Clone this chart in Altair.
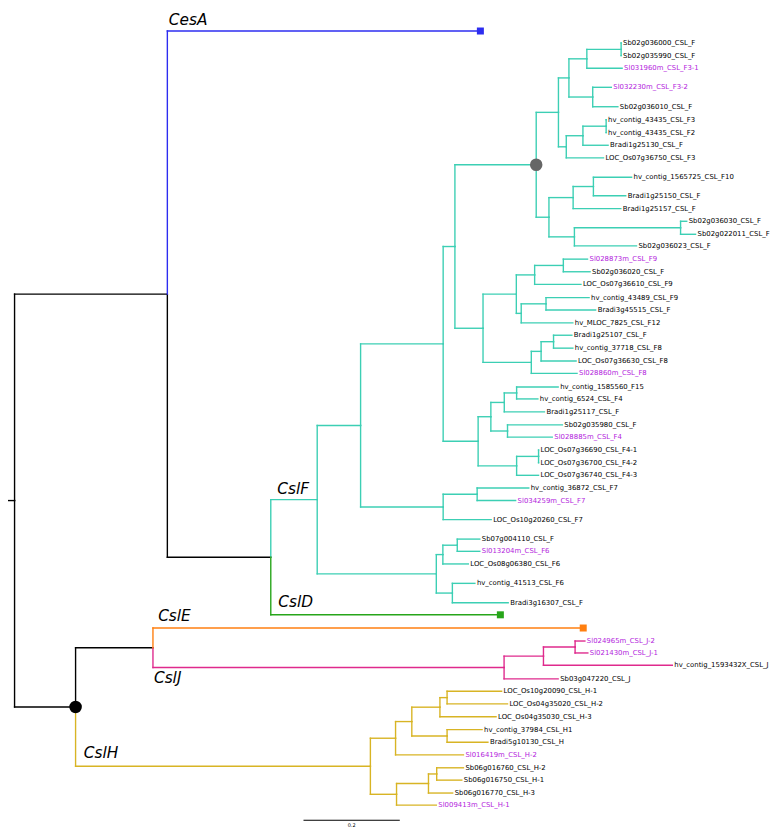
import altair as alt
import pandas as pd

# ---------------- tree data ----------------
# internal nodes: name, parent, distance from left edge
int_names = ["root", "A", "B", "F0", "F1", "F2", "F3", "G", "G1", "G11", "G111", "G1111",
             "G112", "G12", "G121", "G1211", "G2", "G21", "G211", "G22", "G221",
             "F5", "F51", "F511", "F5111", "F512", "F5121", "F52", "F521", "F5211",
             "F40", "F41", "F411", "F4111", "F412", "F42", "F421", "F30", "F31",
             "F6", "F61", "F611", "F62", "C", "D", "J0", "J1", "J11",
             "H0", "H1", "H11", "H111", "H1111", "H112", "H2", "H21", "H211"]
int_parents = [None, "root", "A", "B", "F0", "F1", "F2", "F3", "G", "G1", "G11", "G111",
               "G11", "G1", "G12", "G121", "G", "G2", "G21", "G2", "G22",
               "F3", "F5", "F51", "F511", "F51", "F512", "F5", "F52", "F521",
               "F2", "F40", "F41", "F411", "F41", "F40", "F42", "F1", "F30",
               "F0", "F6", "F61", "F6", "root", "C", "D", "J0", "J1",
               "C", "H0", "H1", "H11", "H111", "H11", "H0", "H2", "H21"]
int_depth = [6.7, 162.7, 268.3, 315.7, 360, 444.3, 456.3, 539.3, 562, 572.7, 591, 626,
             597, 570, 587, 610.7, 552.3, 577, 597.7, 578.3, 686.7,
             485, 519, 537.7, 567, 524, 549.3, 534.3, 544.3, 557,
             480, 493, 506.7, 519.3, 510, 519.3, 541.7, 444.3, 479,
             437.3, 444, 458.7, 453.7, 69, 148, 506.5, 546.7, 579,
             370, 395.7, 412.3, 441, 448.3, 448.3, 396.7, 429.3, 437.7]

leaf_names = ["Sb02g036000_CSL_F", "Sb02g035990_CSL_F", "Sl031960m_CSL_F3-1", "Sl032230m_CSL_F3-2",
              "Sb02g036010_CSL_F", "hv_contig_43435_CSL_F3", "hv_contig_43435_CSL_F2",
              "Bradi1g25130_CSL_F", "LOC_Os07g36750_CSL_F3", "hv_contig_1565725_CSL_F10",
              "Bradi1g25150_CSL_F", "Bradi1g25157_CSL_F", "Sb02g036030_CSL_F", "Sb02g022011_CSL_F",
              "Sb02g036023_CSL_F", "Sl028873m_CSL_F9", "Sb02g036020_CSL_F", "LOC_Os07g36610_CSL_F9",
              "hv_contig_43489_CSL_F9", "Bradi3g45515_CSL_F", "hv_MLOC_7825_CSL_F12",
              "Bradi1g25107_CSL_F", "hv_contig_37718_CSL_F8", "LOC_Os07g36630_CSL_F8",
              "Sl028860m_CSL_F8", "hv_contig_1585560_F15", "hv_contig_6524_CSL_F4",
              "Bradi1g25117_CSL_F", "Sb02g035980_CSL_F", "Sl028885m_CSL_F4",
              "LOC_Os07g36690_CSL_F4-1", "LOC_Os07g36700_CSL_F4-2", "LOC_Os07g36740_CSL_F4-3",
              "hv_contig_36872_CSL_F7", "Sl034259m_CSL_F7", "LOC_Os10g20260_CSL_F7",
              "Sb07g004110_CSL_F", "Sl013204m_CSL_F6", "LOC_Os08g06380_CSL_F6",
              "hv_contig_41513_CSL_F6", "Bradi3g16307_CSL_F", "CslD", "CesA", "CslE",
              "Sl024965m_CSL_J-2", "Sl021430m_CSL_J-1", "hv_contig_1593432X_CSL_J",
              "Sb03g047220_CSL_J", "LOC_Os10g20090_CSL_H-1", "LOC_Os04g35020_CSL_H-2",
              "LOC_Os04g35030_CSL_H-3", "hv_contig_37984_CSL_H1", "Bradi5g10130_CSL_H",
              "Sl016419m_CSL_H-2", "Sb06g016760_CSL_H-2", "Sb06g016750_CSL_H-1",
              "Sb06g016770_CSL_H-3", "Sl009413m_CSL_H-1"]
leaf_parents = ["G1111", "G1111", "G111", "G112", "G112", "G1211", "G1211", "G121", "G12",
                "G211", "G211", "G21", "G221", "G221", "G22", "F5111", "F5111", "F511",
                "F5121", "F5121", "F512", "F5211", "F5211", "F521", "F52", "F4111", "F4111",
                "F411", "F412", "F412", "F421", "F421", "F42", "F31", "F31", "F30",
                "F611", "F611", "F61", "F62", "F62", "B", "A", "D",
                "J11", "J11", "J1", "J0", "H1111", "H1111", "H111", "H112", "H112",
                "H1", "H211", "H211", "H21", "H2"]
leaf_depth = [626, 626, 627, 616, 622.7, 610.7, 610.7, 612.7, 608, 636.7,
              630.7, 625.7, 693, 702, 641.7, 591.7, 594.3, 585,
              593.3, 600, 576.7, 575.7, 576.7, 580, 581, 561.7, 541,
              547.7, 566, 555.7, 541.7, 541.7, 541.7, 531.7, 518.3, 493.3,
              481.7, 481.7, 470, 476.7, 510.7, 502.7, 482.3, 587.3,
              589, 592, 678.3, 561.7, 504, 510, 498.3, 484, 490,
              465, 465, 463.3, 454, 437.3]
leaf_rows = [31.7, 44.7, 57.7, 77.3, 97.3, 110.7, 124, 137, 150, 170,
             189, 202.3, 215.3, 228.7, 240.7, 254.3, 267.3, 280.3,
             294, 306.7, 320, 332.7, 346, 359.3, 372, 386, 398.3,
             411.7, 425, 437.7, 451, 464, 477, 490, 503, 522.7,
             542.7, 555.3, 568.3, 588.3, 608.3, 620.7, 19.3, 634.3,
             647.7, 660, 672.7, 686.7, 699.5, 712.5, 725.7, 739, 752,
             765, 778.3, 791, 804.3, 816.7]

clade_marker_leaves = ["CesA", "CslD", "CslE"]
clade_colors = {"CesA": "#2d2df0", "F0": "#3ccfb4", "CslD": "#27a51a",
                "CslE": "#ff7f10", "J0": "#df2a8d", "H0": "#d8b424"}
highlight_nodes = ["G", "C"]
highlight_colors = ["#666666", "#000000"]

clade_label_text = ["CesA", "CslF", "CslD", "CslE", "CslJ", "CslH"]
clade_label_xnode = ["A", "B", "B", "D", "D", "C"]
clade_label_ynode = ["CesA", "F0", "CslD", "CslE", "J0", "H0"]
clade_label_dx = [1.5, 6.7, 7.7, 5.3, 1.0, 8.3]
clade_label_dy = [-6.5, -6.0, -8.0, -7.6, 16.0, -8.0]

scale_bar_start = 301.7
scale_bar_len = 98.3
scale_bar_row = 832.3
scale_bar_label = "0.2"

# ---------------- build tree geometry ----------------
parent_of, depth, row = {}, {}, {}
children = {}
for n, p, d in zip(int_names, int_parents, int_depth):
    parent_of[n], depth[n] = p, d
for n, p, d, r in zip(leaf_names, leaf_parents, leaf_depth, leaf_rows):
    parent_of[n], depth[n], row[n] = p, d, r
for n, p in parent_of.items():
    if p is not None:
        children.setdefault(p, []).append(n)


def node_row(n):
    if n not in row:
        ys = [node_row(c) for c in children[n]]
        row[n] = (min(ys) + max(ys)) / 2
    return row[n]


node_row("root")


def edge_color(n):
    while n is not None:
        if n in clade_colors:
            return clade_colors[n]
        n = parent_of[n]
    return "#000000"


segs = [dict(x=0, x2=depth["root"], y=row["root"], y2=row["root"], c="#000000", o=0)]
for n, p in parent_of.items():
    if p is None:
        continue
    c = edge_color(n)
    o = 0 if c == "#000000" else 1
    segs.append(dict(x=depth[p], x2=depth[n], y=row[n], y2=row[n], c=c, o=o))
    segs.append(dict(x=depth[p], x2=depth[p], y=row[p], y2=row[n], c=c, o=o))
seg_df = pd.DataFrame(segs).sort_values("o")

sq_df = pd.DataFrame(dict(x=[depth[n] for n in clade_marker_leaves],
                          y=[row[n] for n in clade_marker_leaves],
                          c=[edge_color(n) for n in clade_marker_leaves]))
circ_df = pd.DataFrame(dict(x=[depth[n] for n in highlight_nodes],
                            y=[row[n] for n in highlight_nodes],
                            c=highlight_colors))

lab = [n for n in leaf_names if n not in clade_marker_leaves]
lab_df = pd.DataFrame(dict(x=[depth[n] for n in lab], y=[row[n] for n in lab], t=lab,
                           c=["#b324dd" if n.startswith("Sl0") else "#000000" for n in lab]))

cl_df = pd.DataFrame(dict(
    x=[depth[a] + dx for a, dx in zip(clade_label_xnode, clade_label_dx)],
    y=[row[b] + dy for b, dy in zip(clade_label_ynode, clade_label_dy)],
    t=clade_label_text))

sb_df = pd.DataFrame(dict(x=[scale_bar_start], x2=[scale_bar_start + scale_bar_len],
                          y=[scale_bar_row], t=[scale_bar_label]))
sb_df["xm"] = sb_df["x"] + scale_bar_len / 2
sb_df["yt"] = sb_df["y"] + 3

# ---------------- chart ----------------
xs = alt.Scale(domain=[0, 778], nice=False, zero=False)
ys = alt.Scale(domain=[0, 839], nice=False, zero=False, reverse=True)


def X(f):
    return alt.X(f, type="quantitative", scale=xs, axis=None)


def Y(f):
    return alt.Y(f, type="quantitative", scale=ys, axis=None)


edges = alt.Chart(seg_df).mark_rule(strokeWidth=1.4, strokeCap="square").encode(
    x=X("x"), x2="x2", y=Y("y"), y2="y2", color=alt.Color("c:N", scale=None))

squares = alt.Chart(sq_df).mark_point(shape="square", filled=True, size=50, opacity=1).encode(
    x=X("x"), y=Y("y"), color=alt.Color("c:N", scale=None))

circles = alt.Chart(circ_df).mark_point(shape="circle", filled=True, size=160, opacity=1).encode(
    x=X("x"), y=Y("y"), color=alt.Color("c:N", scale=None))

labels = alt.Chart(lab_df).mark_text(align="left", baseline="middle", dx=2,
                                     font="DejaVu Sans", fontSize=7).encode(
    x=X("x"), y=Y("y"), text="t:N", color=alt.Color("c:N", scale=None))

clade_labels = alt.Chart(cl_df).mark_text(align="left", baseline="alphabetic",
                                          font="DejaVu Sans", fontStyle="italic",
                                          fontSize=15.5, color="#000000").encode(
    x=X("x"), y=Y("y"), text="t:N")

sbar = alt.Chart(sb_df).mark_rule(strokeWidth=1.2, color="#000000").encode(
    x=X("x"), x2="x2", y=Y("y"))
sbar_text = alt.Chart(sb_df).mark_text(align="center", baseline="top", fontSize=5,
                                       font="DejaVu Sans", color="#000000").encode(
    x=X("xm"), y=Y("yt"), text="t:N")

chart = alt.layer(edges, squares, circles, labels, clade_labels, sbar, sbar_text).properties(
    width=770, height=823, padding=0, autosize=alt.AutoSizeParams(type="none")
).configure_view(stroke=None)

chart.save("out.html", embed_options={"renderer": "svg", "actions": False})
